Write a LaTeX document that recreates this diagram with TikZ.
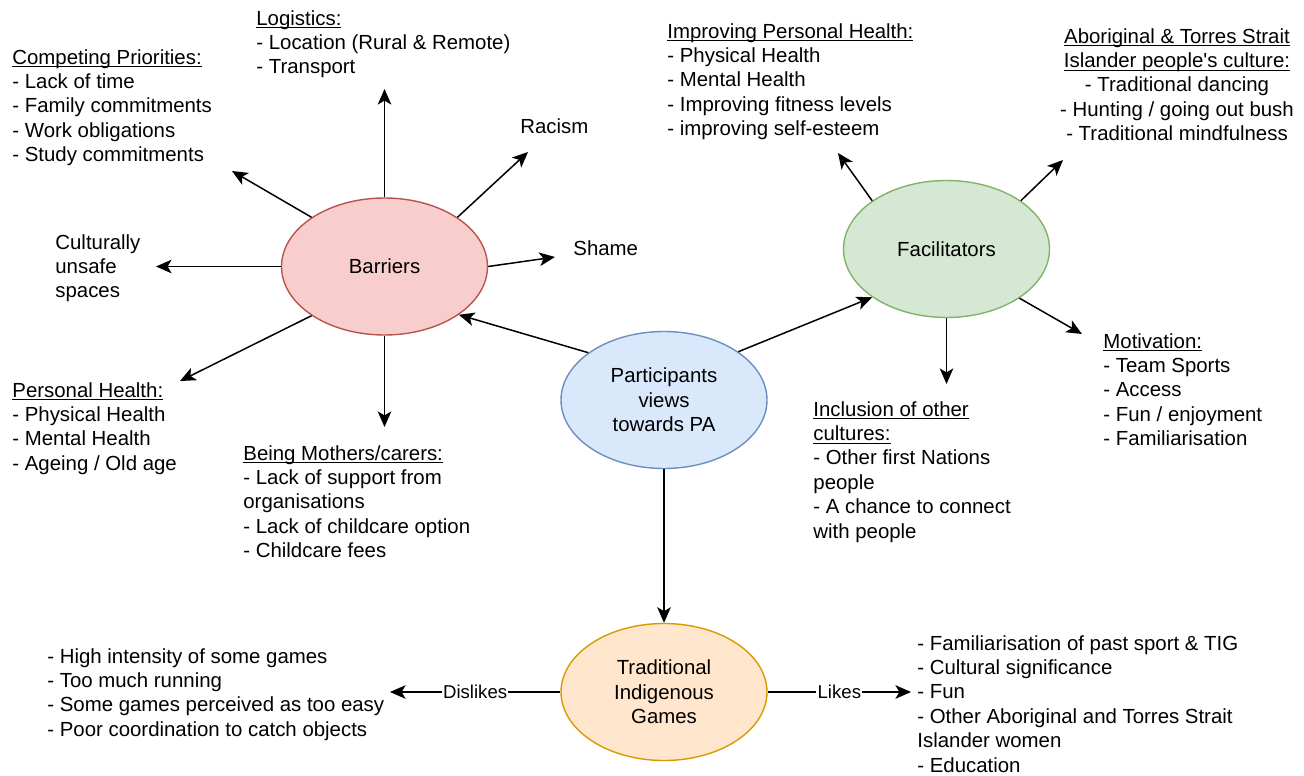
\documentclass[tikz,border=0pt]{standalone}
\usepackage{fontspec}
\setmainfont{Liberation Sans}[Ligatures=TeXOff]
\usetikzlibrary{shapes.geometric,arrows.meta}

\definecolor{barFill}{HTML}{F8CECC}
\definecolor{barLine}{HTML}{B85450}
\definecolor{facFill}{HTML}{D5E8D4}
\definecolor{facLine}{HTML}{82B366}
\definecolor{partFill}{HTML}{DAE8FC}
\definecolor{partLine}{HTML}{6C8EBF}
\definecolor{tigFill}{HTML}{FFE6CC}
\definecolor{tigLine}{HTML}{D79B00}

\newsavebox\undlbox
\newcommand{\undl}[1]{\sbox\undlbox{#1}\rlap{\rule[-1.6pt]{\wd\undlbox}{0.55pt}}\usebox\undlbox}

\begin{document}
\begin{tikzpicture}
      [x=0.5pt,y=-0.5pt,
       every node/.style={font=\fontsize{10.2}{12.2}\selectfont},
       blob/.style={ellipse,draw,line width=0.7pt,minimum width=103pt,minimum height=68.5pt,inner sep=0pt,align=center},
       txt/.style={anchor=north west,align=left,inner sep=0pt},
       lbl/.style={fill=white,inner sep=0.6pt,font=\fontsize{9.3}{11}\selectfont},
       arr/.style={-{Stealth[length=7.8pt,width=6.8pt,inset=2pt]},line width=0.75pt}]
      \useasboundingbox (0,0) rectangle (1304,775);

      \node[blob,fill=barFill,draw=barLine] (bar) at (384.5,266.5) {Barriers};
      \node[blob,fill=facFill,draw=facLine] (fac) at (946.5,249) {Facilitators};
      \node[blob,fill=partFill,draw=partLine] (part) at (664,400) {Participants\\views\\towards PA};
      \node[blob,fill=tigFill,draw=tigLine] (tig) at (664,692) {Traditional\\Indigenous\\Games};

      \node[txt] (comp) at (12,49) {\undl{Competing Priorities:}\\- Lack of time\\- Family commitments\\- Work obligations\\- Study commitments};
      \node[txt] (logi) at (256,10) {\undl{Logistics:}\\- Location (Rural \& Remote)\\- Transport};
      \node[txt] (racism) at (520,118) {Racism};
      \node[txt] (shame) at (573,240) {Shame};
      \node[txt] (unsafe) at (55,234) {Culturally\\unsafe\\spaces};
      \node[txt] (phealth) at (12,382) {\undl{Personal Health:}\\- Physical Health\\- Mental Health\\- Ageing / Old age};
      \node[txt] (mothers) at (243,445) {\undl{Being Mothers/carers:}\\- Lack of support from\\organisations\\- Lack of childcare option\\- Childcare fees};
      \node[txt] (iphealth) at (667,23) {\undl{Improving Personal Health:}\\- Physical Health\\- Mental Health\\- Improving fitness levels\\- improving self-esteem};
      \node[txt,anchor=north,align=center] (culture) at (1177,28) {\undl{Aboriginal \& Torres Strait}\\\undl{Islander people's culture:}\\- Traditional dancing\\- Hunting / going out bush\\- Traditional mindfulness};
      \node[txt] (incl) at (813,401) {\undl{Inclusion of other}\\\undl{cultures:}\\- Other first Nations\\people\\- A chance to connect\\with people};
      \node[txt] (motiv) at (1103,333) {\undl{Motivation:}\\- Team Sports\\- Access\\- Fun / enjoyment\\- Familiarisation};
      \node[txt] (dislk) at (47,648) {- High intensity of some games\\- Too much running\\- Some games perceived as too easy\\- Poor coordination to catch objects};
      \node[txt] (likes) at (917,635) {- Familiarisation of past sport \& TIG\\- Cultural significance\\- Fun\\- Other Aboriginal and Torres Strait\\Islander women\\- Education};

      \coordinate (logiEnd) at (384.5,89);
      \coordinate (compEnd) at (232,171);
      \coordinate (racismEnd) at (528,152);
      \coordinate (shameEnd) at (555,257);
      \coordinate (unsafeEnd) at (156,266.5);
      \coordinate (phealthEnd) at (180,381);
      \coordinate (mothersEnd) at (384.5,427);
      \coordinate (iphealthEnd) at (838,153);
      \coordinate (cultureEnd) at (1063,160);
      \coordinate (inclEnd) at (946.5,384);
      \coordinate (motivEnd) at (1082,334);
      \coordinate (dislkEnd) at (390,692);
      \coordinate (likesEnd) at (911,692);

      \draw[arr] (bar.north) -- (logiEnd);
      \draw[arr] (bar.146) -- (compEnd);
      \draw[arr] (bar.34) -- (racismEnd);
      \draw[arr] (bar.east) -- (shameEnd);
      \draw[arr] (bar.west) -- (unsafeEnd);
      \draw[arr] (bar.214) -- (phealthEnd);
      \draw[arr] (bar.south) -- (mothersEnd);
      \draw[arr] (part.148) -- (bar.-33);
      \draw[arr] (part.33) -- (fac.213);
      \draw[arr] (part.south) -- (tig.north);
      \draw[arr] (fac.147) -- (iphealthEnd);
      \draw[arr] (fac.33) -- (cultureEnd);
      \draw[arr] (fac.south) -- (inclEnd);
      \draw[arr] (fac.-34) -- (motivEnd);
      \draw[arr] (tig.west) -- node[lbl] {Dislikes} (dislkEnd);
      \draw[arr] (tig.east) -- node[lbl] {Likes} (likesEnd);
    \end{tikzpicture}
\end{document}
